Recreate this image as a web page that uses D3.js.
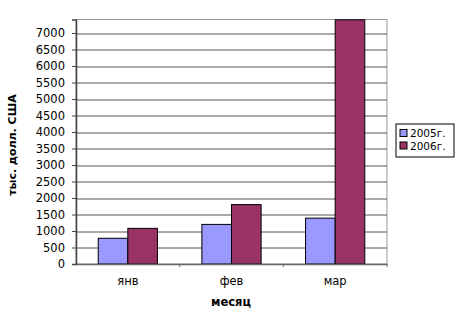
<!DOCTYPE html>
<html>
<head>
<meta charset="utf-8">
<script src="https://cdn.jsdelivr.net/npm/d3@7"></script>
<style>
  body { margin: 0; background: #fff; }
  svg text { font-family: "DejaVu Sans", Verdana, sans-serif; font-size: 11.5px; fill: #000; }
</style>
</head>
<body>
<div class="chart"></div>
<script>
var months = ["янв", "фев", "мар"];
var seriesNames = ["2005г.", "2006г."];
var values2005 = [780, 1200, 1390];
var values2006 = [1080, 1800, 7400];
var yTicks = [0, 500, 1000, 1500, 2000, 2500, 3000, 3500, 4000, 4500, 5000, 5500, 6000, 6500, 7000];
var colors = ["#9999ff", "#993366"];

var data = months.map(function(m, i) {
	return {month: m, values: [values2005[i], values2006[i]]};
});

var width = 459, height = 321;
var margin = {top: 19.5, right: 72, bottom: 57, left: 76};
var w = width - margin.left - margin.right;
var h = height - margin.top - margin.bottom;

var svg = d3.select(".chart").append("svg")
	.attr("width", width)
	.attr("height", height);

var x = d3.scaleBand().domain(months).range([0, w]).paddingInner(0).paddingOuter(0);
var xSub = d3.scaleBand().domain([0, 1]).range([0, x.bandwidth()]).paddingInner(0).paddingOuter(0.75);
var y = d3.scaleLinear().domain([0, 7410]).range([h, 0]);

var g = svg.append("g").attr("transform", "translate(" + margin.left + "," + margin.top + ")");

// plot border
g.append("rect")
	.attr("width", w).attr("height", h)
	.attr("fill", "#fff").attr("stroke", "#999");

// grid
g.selectAll(".grid").data(yTicks.slice(1)).enter().append("line")
	.attr("x1", 0).attr("x2", w)
	.attr("y1", function(d) { return Math.round(y(d)) + 0.5; })
	.attr("y2", function(d) { return Math.round(y(d)) + 0.5; })
	.attr("stroke", "#555");

// bars
var groups = g.selectAll(".grp").data(data).enter().append("g")
	.attr("transform", function(d) { return "translate(" + x(d.month) + ",0)"; });

groups.selectAll("rect").data(function(d) { return d.values; }).enter().append("rect")
	.attr("x", function(d, i) { return xSub(i); })
	.attr("y", function(d) { return y(d); })
	.attr("width", xSub.bandwidth())
	.attr("height", function(d) { return h - y(d); })
	.attr("fill", function(d, i) { return colors[i]; })
	.attr("stroke", "#000").attr("stroke-width", 1);

// axes
var yAxis = d3.axisLeft(y).tickValues(yTicks).tickFormat(d3.format("d")).tickSize(4).tickPadding(7);
var gy = g.append("g").call(yAxis);
gy.select(".domain").attr("stroke", "#444").attr("stroke-width", 1.5);
gy.selectAll(".tick line").attr("stroke", "#444");
gy.selectAll("text").style("font-size", "11.5px");

var xAxis = d3.axisBottom(x).tickSize(0).tickPadding(13);
var gx = g.append("g").attr("transform", "translate(0," + h + ")").call(xAxis);
gx.select(".domain").attr("stroke", "#666").attr("stroke-width", 1.5);
gx.selectAll("text").style("font-size", "11.5px");

// category boundary ticks
g.selectAll(".xt").data(months.slice(1).concat([null])).enter().append("line")
	.attr("x1", function(d, i) { return x.bandwidth() * (i + 1); })
	.attr("x2", function(d, i) { return x.bandwidth() * (i + 1); })
	.attr("y1", h).attr("y2", h + 3)
	.attr("stroke", "#666");

// axis titles
svg.append("text")
	.attr("x", 231).attr("y", 306)
	.attr("text-anchor", "middle")
	.style("font-weight", "bold")
	.style("font-size", "11.5px")
	.text("месяц");

svg.append("text")
	.attr("transform", "translate(16,145) rotate(-90)")
	.attr("text-anchor", "middle")
	.style("font-weight", "bold")
	.style("font-size", "11px")
	.text("тыс. долл. США");

// legend
var leg = svg.append("g").attr("transform", "translate(396,124)");
leg.append("rect").attr("width", 58).attr("height", 33)
	.attr("fill", "#fff").attr("stroke", "#000");
var items = leg.selectAll(".item").data(seriesNames).enter().append("g")
	.attr("transform", function(d, i) { return "translate(4," + (5.5 + i * 12.5) + ")"; });
items.append("rect").attr("width", 7).attr("height", 7)
	.attr("fill", function(d, i) { return colors[i]; })
	.attr("stroke", "#000");
items.append("text").attr("x", 10).attr("y", 7.5)
	.style("font-size", "10.5px")
	.text(function(d) { return d; });
</script>
</body>
</html>
